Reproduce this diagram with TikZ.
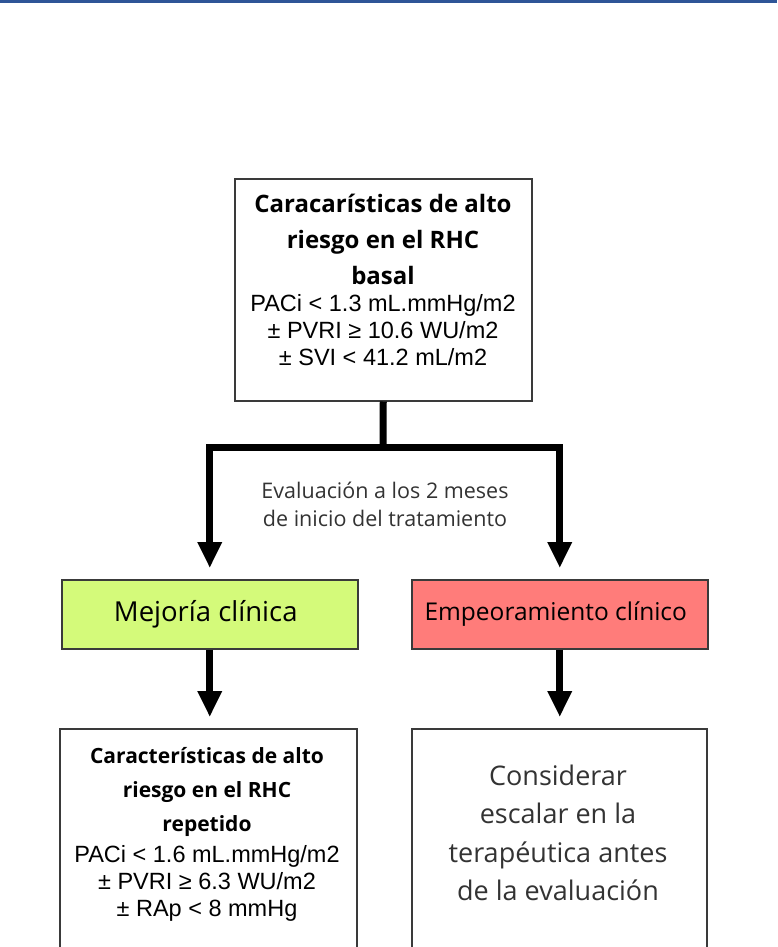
\documentclass[tikz,border=0pt]{standalone}
\usepackage{fontspec}
\setmainfont{Open Sans}
\newfontfamily\arialf{Liberation Sans}
\usetikzlibrary{arrows.meta}
\definecolor{barblue}{HTML}{2F5597}
\definecolor{greenfill}{HTML}{D4FA7A}
\definecolor{redfill}{HTML}{FF7C7A}
\definecolor{boxline}{HTML}{3A3A3A}
\definecolor{txtgray}{HTML}{333333}
\tikzset{
  box/.style={draw=boxline, line width=1.5pt, inner sep=0pt, anchor=north west},
  conn/.style={line width=7pt, black, line join=miter},
  arr/.style={conn, -{Triangle[width=23pt,length=26pt]}, shorten >=11pt},
  boldt/.style={font=\fontsize{24}{36}\selectfont\bfseries, align=center, text=black},
  crit/.style={font=\arialf\fontsize{23.5}{27}\selectfont, align=center, text=black},
}
\begin{document}
\begin{tikzpicture}[x=1pt,y=-1pt]
\clip (0,0) rectangle (777,947);
\fill[barblue] (0,0) rectangle (777,3);
% boxes
\node[box, minimum width=297pt, minimum height=222pt] (top) at (234,178) {};
\node[box, fill=greenfill, minimum width=296pt, minimum height=69pt] (green) at (61,579) {};
\node[box, fill=redfill, minimum width=296pt, minimum height=69pt] (red) at (411,579) {};
\node[box, minimum width=297pt, minimum height=240pt] (bl) at (59,728) {};
\node[box, minimum width=295pt, minimum height=240pt] (br) at (411,728) {};
% top box text
\node[boldt, anchor=north] (toptitle) at (383,191) {Caracarísticas de alto\\riesgo en el RHC\\basal};
\node[crit, anchor=north] (topcrit) at (383,291) {PACi < 1.3 mL.mmHg/m2\\± PVRI ≥ 10.6 WU/m2\\± SVI < 41.2 mL/m2};
% middle label
\node[font=\fontsize{21.5}{28}\selectfont, text=txtgray, align=center] (eval) at (385,504) {Evaluación a los 2 meses\\de inicio del tratamiento};
\node[font=\fontsize{27.5}{30}\selectfont, text=black] (greent) at ([xshift=-4pt]green.center) {Mejoría clínica};
\node[font=\fontsize{24.5}{30}\selectfont, text=black] (redt) at ([xshift=-4pt]red.center) {Empeoramiento clínico};
% bottom-left text
\node[boldt, font=\fontsize{21}{34}\selectfont\bfseries, anchor=north] (bltitle) at (207,744) {Características de alto\\riesgo en el RHC\\repetido};
\node[crit, anchor=north] (blcrit) at (207,842) {PACi < 1.6 mL.mmHg/m2\\± PVRI ≥ 6.3 WU/m2\\± RAp < 8 mmHg};
% bottom-right text
\node[font=\fontsize{27}{38.5}\selectfont, text=txtgray, align=center] (brt) at (558,833) {Considerar\\escalar en la\\terapéutica antes\\de la evaluación};
% connectors
\coordinate (j) at (383,447);
\draw[conn] (top.south) -- (j);
\draw[arr] (j) -| (green.north);
\draw[arr] (j) -| (red.north);
\draw[arr] (green.south) -- (bl.north -| green.south);
\draw[arr] (red.south) -- (br.north -| red.south);
\end{tikzpicture}
\end{document}
